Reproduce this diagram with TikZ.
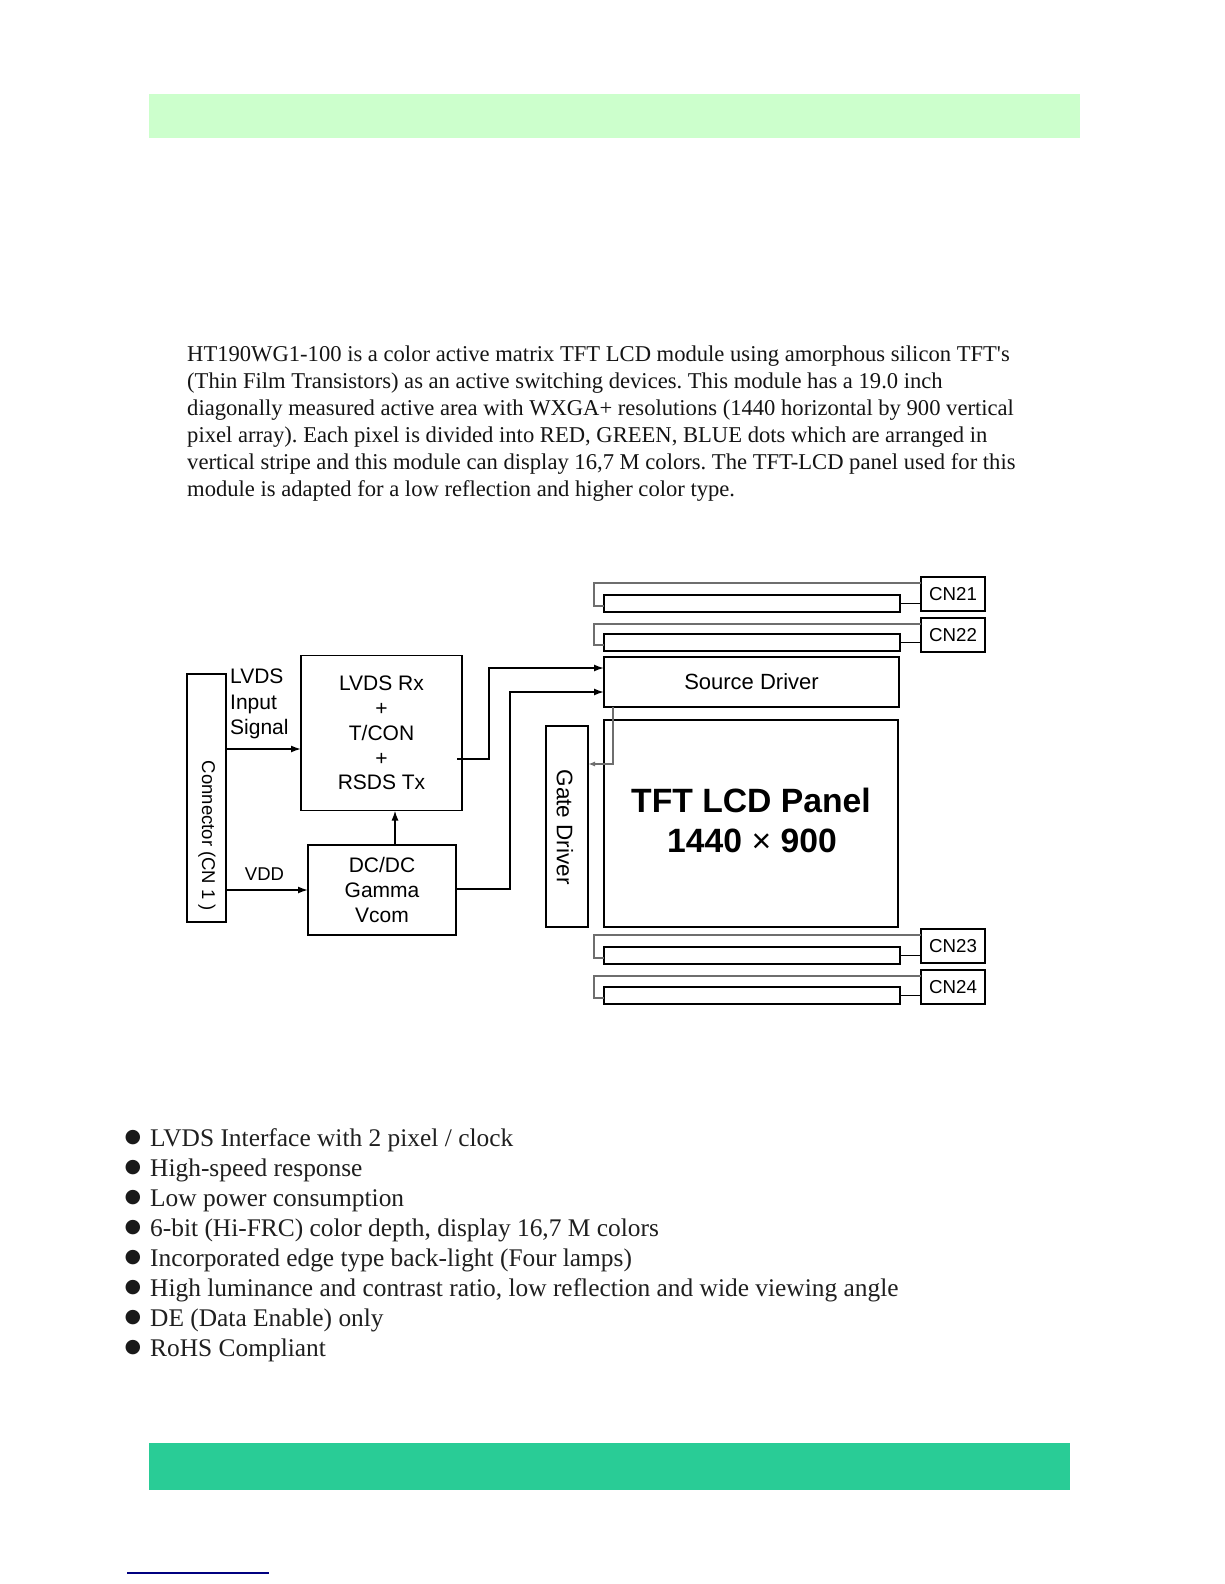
\documentclass[tikz,border=0pt]{standalone}
\usepackage{fontspec}
\setmainfont{Liberation Serif}
\newfontfamily\arialf{Liberation Sans}
\newfontfamily\dejavu{DejaVu Sans}
\usetikzlibrary{arrows.meta}
\definecolor{topgreen}{HTML}{CCFFCC}
\definecolor{botgreen}{HTML}{29CC96}
\definecolor{navyline}{HTML}{000080}
\definecolor{wiregray}{HTML}{6E6E6E}
\frenchspacing
\begin{document}
\begin{tikzpicture}[x=1pt,y=-1pt,
  box/.style={draw=black, line width=1.6pt, inner sep=0pt, outer sep=0pt},
  tube/.style={box, minimum width=296pt, minimum height=17pt},
  cnbox/.style={box, minimum width=64pt, minimum height=34pt, font=\arialf\fontsize{18.7pt}{22pt}\selectfont},
  sans/.style={font=\arialf\fontsize{21pt}{24.8pt}\selectfont},
  para/.style={anchor=base west, inner sep=0pt, text=black!92, font=\fontsize{22.6pt}{27pt}\selectfont},
  blt/.style={anchor=base west, inner sep=0pt, text=black!88, font=\fontsize{25.4pt}{30pt}\selectfont},
  bdot/.style={inner sep=0pt, text=black!90, font=\dejavu\fontsize{19pt}{20pt}\selectfont},
  arr/.style={line width=1.6pt, -{Latex[length=10pt,width=7pt]}},
  smallarr/.style={line width=1.5pt, draw=wiregray, -{Latex[length=7pt,width=5pt]}},
  wire/.style={line width=1.6pt},
  gwire/.style={line width=1.5pt, draw=wiregray}
]
\fill[white] (0,0) rectangle (1224,1584);
\useasboundingbox (0,0) rectangle (1224,1584);

% header / footer bars
\fill[topgreen] (149,94) rectangle (1080,138);
\fill[botgreen] (149,1443) rectangle (1070,1490);
\draw[navyline, line width=2pt] (127,1573) -- (269,1573);

% paragraph
\node[para] (p1) at (187,361.7) {HT190WG1-100 is a color active matrix TFT LCD module using amorphous silicon TFT\textquotesingle s};
\node[para] (p2) at (187,388.7) {(Thin Film Transistors) as an active switching devices. This module has a 19.0 inch};
\node[para] (p3) at (187,415.7) {diagonally measured active area with WXGA+ resolutions (1440 horizontal by 900 vertical};
\node[para] (p4) at (187,442.7) {pixel array). Each pixel is divided into RED, GREEN, BLUE dots which are arranged in};
\node[para] (p5) at (187,469.7) {vertical stripe and this module can display 16,7 M colors. The TFT-LCD panel used for this};
\node[para] (p6) at (187,496.7) {module is adapted for a low reflection and higher color type.};

% ---------- block diagram ----------
\node[box, minimum width=39pt, minimum height=248pt] (conn) at (206.5,798) {};
\node[sans, rotate=-90, inner sep=0pt, font=\arialf\fontsize{18.5pt}{20pt}\selectfont] (conntxt) at (207,836) {Connector (CN 1 )};

\node[box, sans, align=center, minimum width=161pt, minimum height=155pt] (lvds) at (381.5,733)
  {LVDS Rx\\+\\T/CON\\+\\RSDS Tx};
\node[box, sans, align=center, minimum width=148pt, minimum height=90pt] (dc) at (382,890)
  {DC/DC\\Gamma\\Vcom};

\node[sans, anchor=base west, inner sep=0pt] (l1) at (230,683.5) {LVDS};
\node[sans, anchor=base west, inner sep=0pt] (l2) at (230,709) {Input};
\node[sans, anchor=base west, inner sep=0pt] (l3) at (230,734.5) {Signal};
\node[anchor=base, inner sep=0pt, font=\arialf\fontsize{18.5pt}{20pt}\selectfont] (vdd) at (264.5,880.5) {VDD};

\node[box, sans, minimum width=295pt, minimum height=50pt, font=\arialf\fontsize{22pt}{26pt}\selectfont] (sd) at (751.5,682) {Source Driver};
\node[box, minimum width=294pt, minimum height=207pt] (panel) at (751,823.5) {};
\node[anchor=base, inner sep=0pt, font=\arialf\bfseries\fontsize{33.7pt}{40pt}\selectfont] (pt1) at (751,812) {TFT LCD Panel};
\node[anchor=base, inner sep=0pt, font=\arialf\bfseries\fontsize{33.7pt}{40pt}\selectfont] (pt2) at (752,852) {1440 {\mdseries ×} 900};
\node[box, minimum width=42pt, minimum height=201pt] (gate) at (567,826.5) {};
\node[rotate=-90, inner sep=0pt, font=\arialf\fontsize{22.5pt}{24pt}\selectfont] (gatetxt) at (565,827) {Gate Driver};

% helper coordinates
\coordinate (yin) at (0,749);
\coordinate (xup) at (395,0);
\coordinate (x1) at (489,0);
\coordinate (y1) at (0,668);
\coordinate (x2) at (510,0);
\coordinate (y2) at (0,692);
\coordinate (yd) at (0,889);
\coordinate (lvout) at (457,759);
\coordinate (xg) at (613,0);
\coordinate (yg) at (0,764);

\draw[arr] (conn.east |- yin) -- (lvds.west |- yin);
\draw[arr] (conn.east |- dc.west) -- (dc.west);
\draw[arr] (dc.north -| xup) -- (lvds.south -| xup);
\draw[arr] (lvout) -- (lvout -| x1) -- (x1 |- y1) -- (sd.west |- y1);
\draw[arr] (dc.east |- yd) -- (x2 |- yd) -- (x2 |- y2) -- (sd.west |- y2);
\draw[smallarr] (sd.south -| xg) -- (xg |- yg) -- (gate.east |- yg);

% lamps and connectors
\foreach \n/\cy/\ty in {21/594/603.5, 22/635/642.5, 23/946/955.5, 24/987/995.5}{
  \node[cnbox] (cn\n) at (953,\cy) {CN\n};
  \node[tube] (t\n) at (752,\ty) {};
  \draw[wire] (t\n.east) -- (cn\n.west |- t\n.east);
  \draw[gwire] ([yshift=-6pt]cn\n.north west) -| ([xshift=-10pt,yshift=6pt]t\n.south west) -- ([yshift=6pt]t\n.south west);
}

% feature list
\foreach \t [count=\i] in {
  {LVDS Interface with 2 pixel / clock},
  {High-speed response},
  {Low power consumption},
  {6-bit (Hi-FRC) color depth, display 16,7 M colors},
  {Incorporated edge type back-light (Four lamps)},
  {High luminance and contrast ratio, low reflection and wide viewing angle},
  {DE (Data Enable) only},
  {RoHS Compliant}}{
  \node[blt] (f\i) at (150,1146.7+30*\i-30) {\t};
  \node[bdot] (d\i) at (133,1138+30*\i-30) {●};
}
\end{tikzpicture}
\end{document}
